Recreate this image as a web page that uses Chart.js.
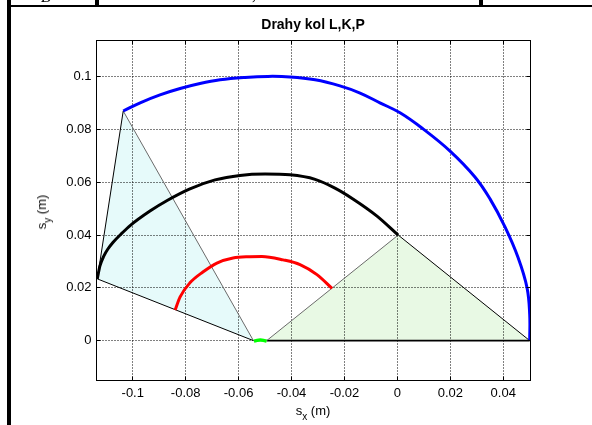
<!DOCTYPE html>
<html>
<head>
<meta charset="utf-8">
<title>Drahy kol L,K,P</title>
<script src="https://cdn.jsdelivr.net/npm/chart.js@4/dist/chart.umd.min.js"></script>
<style>
  html, body { margin: 0; padding: 0; background: #fff; }
  #wrap { position: relative; width: 592px; height: 425px; overflow: hidden; background: #fff;
          font-family: "Liberation Sans", Arial, sans-serif; color: #000; }
  #c { position: absolute; left: 0; top: 0; }
  .rule { position: absolute; background: #000; }
  .title { position: absolute; left: 313px; top: 17px; transform: translateX(-50%);
           font-weight: bold; font-size: 14px; line-height: 14px; white-space: nowrap; }
  .axlabel { position: absolute; font-size: 13px; line-height: 13px; white-space: nowrap; }
  .axlabel .sub { font-size: 10px; position: relative; top: 5px; }
  .xlab { left: 313px; top: 410.5px; transform: translate(-50%, -50%); }
  .ylab { left: 42px; top: 212px; transform: translate(-50%, -50%) rotate(-90deg); }
  .frag { position: absolute; font-family: "Liberation Serif", serif; font-style: italic;
          font-size: 16px; line-height: 16px; white-space: nowrap; }
</style>
</head>
<body>
<div id="wrap">
  <canvas id="c" width="592" height="425"></canvas>

  <!-- page table rules around the figure -->
  <div class="rule" style="left:7px; top:0; width:4px; height:425px;"></div>
  <div class="rule" style="left:11px; top:5px; width:581px; height:2px;"></div>
  <div class="rule" style="left:95px; top:0; width:4px; height:6px;"></div>
  <div class="rule" style="left:479px; top:0; width:4px; height:6px;"></div>
  <div class="frag" style="left:41px; top:-11px;">B</div>
  <div class="frag" style="left:252px; top:-13px;">,</div>

  <div class="title">Drahy kol L,K,P</div>
  <div class="axlabel xlab">s<span class="sub">x</span> (m)</div>
  <div class="axlabel ylab">s<span class="sub">y</span> (m)</div>
</div>

<script>
// axis limits and ticks
const xLimits = [-0.1137, 0.0503];
const yLimits = [-0.0151, 0.1137];
const xTickValues = [-0.1, -0.08, -0.06, -0.04, -0.02, 0, 0.02, 0.04];
const xTickLabels = ['-0.1', '-0.08', '-0.06', '-0.04', '-0.02', '0', '0.02', '0.04'];
const yTickValues = [0, 0.02, 0.04, 0.06, 0.08, 0.1];
const yTickLabels = ['0', '0.02', '0.04', '0.06', '0.08', '0.1'];

// wheel P path (blue)
const blueX = [-0.1036, -0.0972, -0.0897, -0.0821, -0.0746, -0.0670, -0.0576, -0.0489, -0.0406, -0.0311,
               -0.0217, -0.0141, -0.0066, 0.0010, 0.0097, 0.0199, 0.0293, 0.0350, 0.0407, 0.0456,
               0.0490, 0.0500, 0.0500];
const blueY = [0.0870, 0.0901, 0.0931, 0.0955, 0.0974, 0.0988, 0.0997, 0.1001, 0.0999, 0.0988,
               0.0965, 0.0938, 0.0901, 0.0863, 0.0802, 0.0718, 0.0620, 0.0537, 0.0430, 0.0315,
               0.0200, 0.0098, 0.0000];

// wheel K path (black)
const blackX = [-0.1134, -0.1124, -0.1109, -0.1094, -0.1075, -0.1040, -0.1010, -0.0935, -0.0870,
                -0.0784, -0.0689, -0.0595, -0.0500, -0.0406, -0.0311, -0.0236, -0.0168, -0.0077, 0.0003];
const blackY = [0.0234, 0.0283, 0.0321, 0.0347, 0.0372, 0.0408, 0.0436, 0.0491, 0.0531,
                0.0575, 0.0609, 0.0626, 0.0631, 0.0628, 0.0611, 0.0578, 0.0537, 0.0472, 0.0400];

// wheel L path (red)
const redX = [-0.0840, -0.0821, -0.0784, -0.0735, -0.0682, -0.0621, -0.0557, -0.0512, -0.0432,
              -0.0368, -0.0304, -0.0247];
const redY = [0.0116, 0.0166, 0.0219, 0.0260, 0.0294, 0.0313, 0.0318, 0.0319, 0.0306,
              0.0288, 0.0250, 0.0198];

// short path at the base (green)
const greenX = [-0.0542, -0.0530, -0.0518, -0.0506, -0.0494];
const greenY = [-0.0002, 0.0001, 0.0002, 0.0001, -0.0002];

// first body (cyan triangle): top, left, bottom vertices
const cyanX = [-0.1036, -0.1134, -0.0544];
const cyanY = [0.0870, 0.0234, 0.0000];

// second body (green triangle): left, apex, right vertices
const triX = [-0.0494, 0.0003, 0.0500];
const triY = [0.0000, 0.0400, 0.0000];

const pts = (xs, ys) => xs.map((x, i) => ({ x, y: ys[i] }));
const pick = (xs, ys, idx) => idx.map(i => ({ x: xs[i], y: ys[i] }));

const lineDs = (data, color, width, order, smooth) => ({
  data, showLine: true, borderColor: color, borderWidth: width, pointRadius: 0,
  pointHoverRadius: 0, fill: false, order,
  tension: smooth === 'bezier' ? 0.4 : 0,
  cubicInterpolationMode: smooth === 'monotone' ? 'monotone' : 'default',
  borderCapStyle: 'butt', borderJoinStyle: 'round'
});

const datasets = [
  // filled bodies
  { data: pick(cyanX, cyanY, [0, 1, 2, 0]), showLine: true, borderWidth: 0, borderColor: 'rgba(0,0,0,0)',
    backgroundColor: '#e6fafa', fill: 'shape', pointRadius: 0, order: 5 },
  { data: pick(triX, triY, [0, 1, 2, 0]), showLine: true, borderWidth: 0, borderColor: 'rgba(0,0,0,0)',
    backgroundColor: '#e8f9e4', fill: 'shape', pointRadius: 0, order: 5 },
  // body edges
  lineDs(pick(cyanX, cyanY, [0, 1, 2]), '#000000', 1, 4),
  lineDs(pick(cyanX, cyanY, [0, 2]), '#6a6a6a', 1, 4),
  lineDs(pick(triX, triY, [0, 1]), '#6a6a6a', 1, 4),
  lineDs(pick(triX, triY, [1, 2]), '#000000', 1, 4),
  lineDs(pick(triX, triY, [0, 2]), '#000000', 1.6, 4),
  // wheel paths
  lineDs(pts(blueX, blueY), '#0000ff', 3, 2, 'bezier'),
  lineDs(pts(blackX, blackY), '#000000', 3, 2, 'monotone'),
  lineDs(pts(redX, redY), '#ff0000', 3, 2, 'monotone'),
  lineDs(pts(greenX, greenY), '#00ff00', 3.5, 1, 'monotone')
];

function drawGrid(chart) {
  const { ctx, chartArea: a, scales: { x, y } } = chart;
  ctx.save();
  ctx.strokeStyle = '#000';
  ctx.lineWidth = 1;
  ctx.setLineDash([1, 2]);
  xTickValues.forEach(v => {
    const px = Math.floor(x.getPixelForValue(v)) + 0.5;
    ctx.beginPath(); ctx.moveTo(px, a.top); ctx.lineTo(px, a.bottom); ctx.stroke();
  });
  yTickValues.forEach(v => {
    const py = Math.floor(y.getPixelForValue(v)) + 0.5;
    ctx.beginPath(); ctx.moveTo(a.left, py); ctx.lineTo(a.right, py); ctx.stroke();
  });
  ctx.restore();
}

// dotted grid between the filled bodies and the lines, box and inward ticks on top
const framePlugin = {
  id: 'frame',
  beforeDatasetsDraw(chart) { chart.$gridDone = false; },
  beforeDatasetDraw(chart, args) {
    if (chart.$gridDone || chart.data.datasets[args.index].order >= 5) return;
    chart.$gridDone = true;
    drawGrid(chart);
  },
  afterDatasetsDraw(chart) {
    if (!chart.$gridDone) { drawGrid(chart); chart.$gridDone = true; }
  },
  afterDraw(chart) {
    const { ctx, chartArea: a, scales: { x, y } } = chart;
    const L = Math.floor(a.left) + 0.5, R = Math.floor(a.right) + 0.5;
    const T = Math.floor(a.top) + 0.5, B = Math.floor(a.bottom) + 0.5;
    const tl = 4;
    ctx.save();
    ctx.strokeStyle = '#000';
    ctx.lineWidth = 1;
    ctx.setLineDash([]);
    ctx.strokeRect(L, T, R - L, B - T);
    ctx.beginPath();
    xTickValues.forEach(v => {
      const px = Math.floor(x.getPixelForValue(v)) + 0.5;
      ctx.moveTo(px, B); ctx.lineTo(px, B - tl);
      ctx.moveTo(px, T); ctx.lineTo(px, T + tl);
    });
    yTickValues.forEach(v => {
      const py = Math.floor(y.getPixelForValue(v)) + 0.5;
      ctx.moveTo(L, py); ctx.lineTo(L + tl, py);
      ctx.moveTo(R, py); ctx.lineTo(R - tl, py);
    });
    ctx.stroke();
    ctx.restore();
  }
};

const tickFont = { family: 'Liberation Sans', size: 13 };

new Chart(document.getElementById('c'), {
  type: 'scatter',
  data: { datasets },
  options: {
    responsive: false,
    animation: false,
    devicePixelRatio: 1,
    events: [],
    layout: { padding: { left: 0, top: 40.5, right: 61.5, bottom: 0 } },
    plugins: { legend: { display: false }, tooltip: { enabled: false }, title: { display: false } },
    scales: {
      x: {
        type: 'linear', min: xLimits[0], max: xLimits[1],
        afterBuildTicks: s => { s.ticks = xTickValues.map(v => ({ value: v })); },
        afterFit: s => { s.height = 44.5; },
        grid: { display: false, drawTicks: false },
        border: { display: false },
        ticks: { callback: (v, i) => xTickLabels[i], color: '#000', font: tickFont,
                 padding: 5, maxRotation: 0, autoSkip: false }
      },
      y: {
        type: 'linear', min: yLimits[0], max: yLimits[1],
        afterBuildTicks: s => { s.ticks = yTickValues.map(v => ({ value: v })); },
        afterFit: s => { s.width = 96.5; },
        grid: { display: false, drawTicks: false },
        border: { display: false },
        ticks: { callback: (v, i) => yTickLabels[i], color: '#000', font: tickFont,
                 padding: 5, autoSkip: false }
      }
    }
  },
  plugins: [framePlugin]
});
</script>
</body>
</html>
